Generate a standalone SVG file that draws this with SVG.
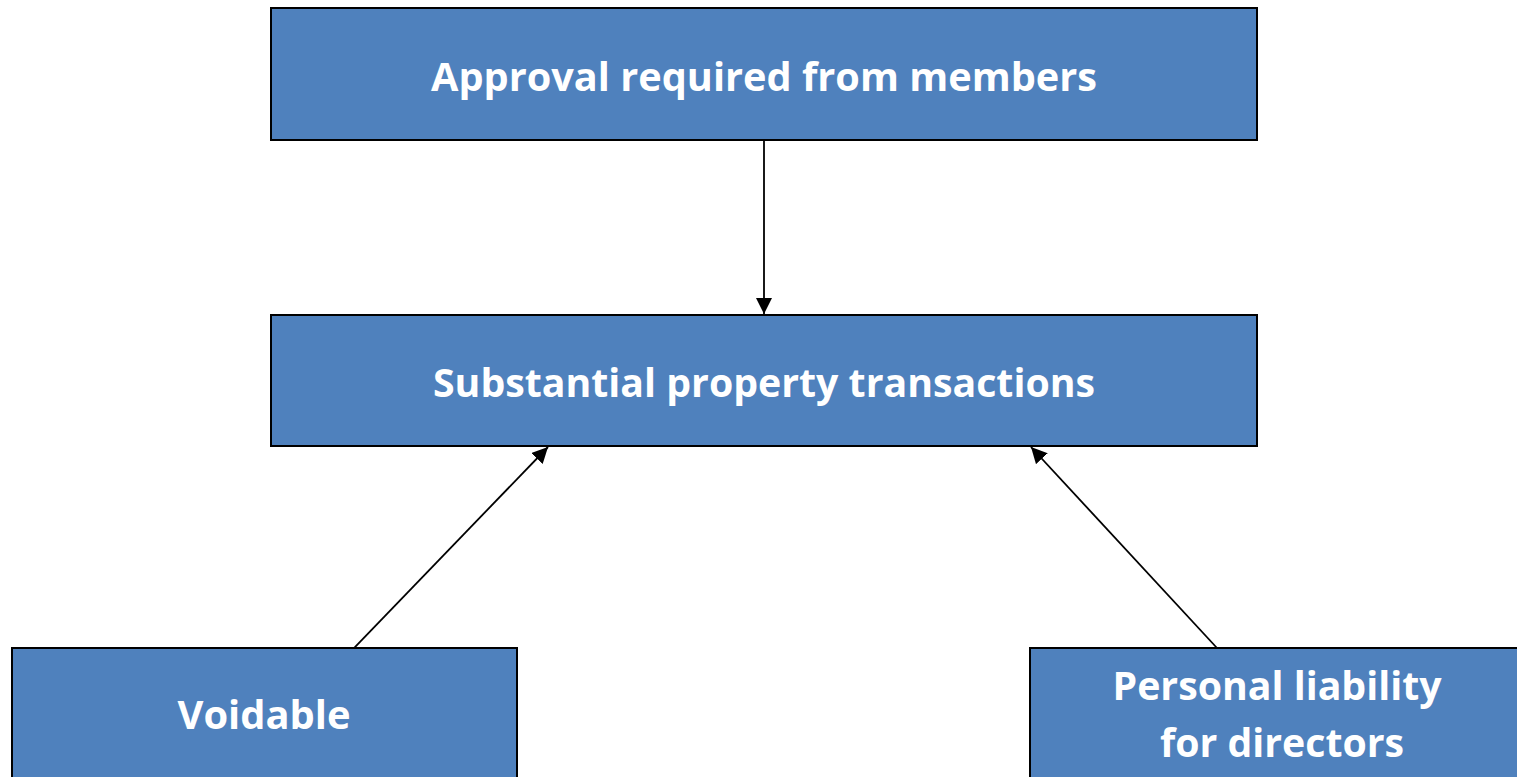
<svg xmlns="http://www.w3.org/2000/svg" width="1517" height="777" viewBox="0 0 1517 777">
<style>
.box{fill:#4F81BD;stroke:#000;stroke-width:2}
.lbl{font-family:"Open Sans","Liberation Sans",sans-serif;font-weight:bold;font-size:40px;fill:#fff;text-anchor:middle}
.conn{stroke:#000;stroke-width:1.8;fill:none;marker-end:url(#ah)}
</style>
<defs>
<marker id="ah" viewBox="0 0 10 10" refX="10" refY="5" markerWidth="9" markerHeight="9" markerUnits="userSpaceOnUse" orient="auto">
<path d="M0,0 L10,5 L0,10 z" fill="#000"/>
</marker>
<marker id="ah2" viewBox="0 0 10 10" refX="10" refY="5" markerWidth="16" markerHeight="16" markerUnits="userSpaceOnUse" orient="auto">
<path d="M0,0 L10,5 L0,10 z" fill="#000"/>
</marker>
</defs>
<rect width="1517" height="777" fill="#fff"/>
<g id="connectors">
<line x1="764" y1="140" x2="764" y2="314" stroke="#000" stroke-width="1.8" marker-end="url(#ah2)"/>
<line x1="354" y1="648" x2="548" y2="447" stroke="#000" stroke-width="1.8" marker-end="url(#ah2)"/>
<line x1="1217" y1="648" x2="1031" y2="447" stroke="#000" stroke-width="1.8" marker-end="url(#ah2)"/>
</g>
<g id="approval">
<rect class="box" x="271" y="8" width="986" height="132"/>
<text class="lbl" x="764" y="91" textLength="666" lengthAdjust="spacingAndGlyphs">Approval required from members</text>
</g>
<g id="spt">
<rect class="box" x="271" y="315" width="986" height="131"/>
<text class="lbl" x="764" y="397" textLength="662" lengthAdjust="spacingAndGlyphs">Substantial property transactions</text>
</g>
<g id="voidable">
<rect class="box" x="12" y="648" width="505" height="140"/>
<text class="lbl" x="264" y="729" textLength="173" lengthAdjust="spacingAndGlyphs">Voidable</text>
</g>
<g id="liability">
<rect class="box" x="1030" y="648" width="500" height="140"/>
<text class="lbl" x="1277" y="700" textLength="329" lengthAdjust="spacingAndGlyphs">Personal liability</text>
<text class="lbl" x="1282" y="757" textLength="244" lengthAdjust="spacingAndGlyphs">for directors</text>
</g>
</svg>
